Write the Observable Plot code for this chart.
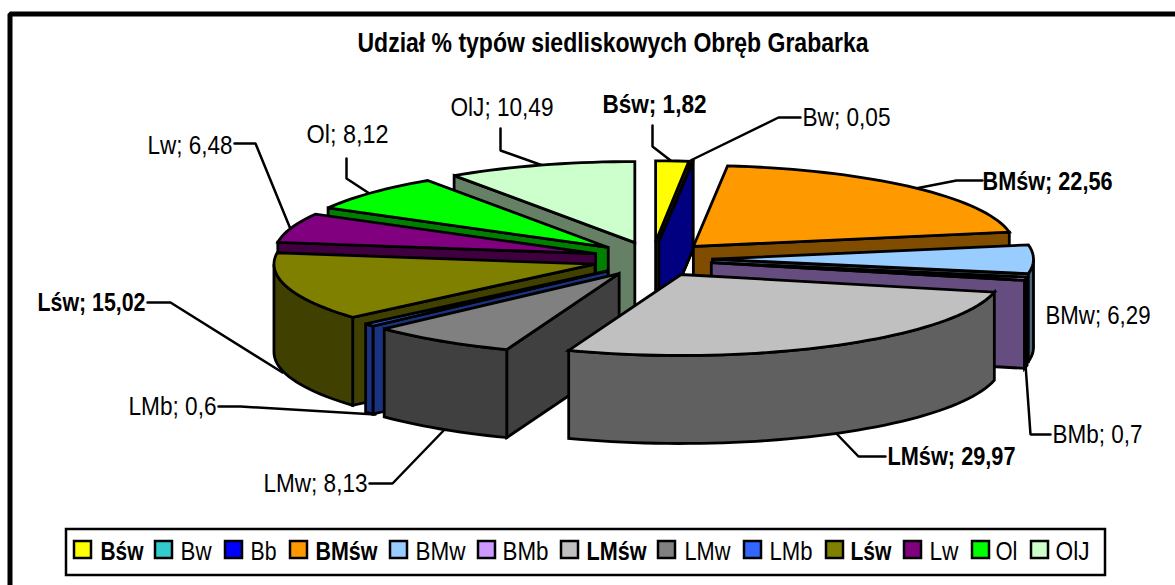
<!DOCTYPE html>
<html><head><meta charset="utf-8">
<script src="https://cdn.jsdelivr.net/npm/d3@7"></script>
<script src="https://cdn.jsdelivr.net/npm/@observablehq/plot@0.6"></script>
<style>html,body{margin:0;padding:0;background:#fff}svg{display:block}</style>
</head><body><div id="chart"></div>
<script>
const categories = ["Bśw","Bw","Bb","BMśw","BMw","BMb","LMśw","LMw","LMb","Lśw","Lw","Ol","OlJ"];
const shares = [1.82,0.05,0,22.56,6.29,0.7,29.97,8.13,0.6,15.02,6.48,8.12,10.49];
const shareLabels = ["1,82","0,05",null,"22,56","6,29","0,7","29,97","8,13","0,6","15,02","6,48","8,12","10,49"];
const boldNames = ["Bśw","BMśw","LMśw","Lśw"];
const topColors = ["#ffff00","#33cccc","#0000ff","#ff9900","#99ccff","#cc99ff","#c0c0c0","#808080","#3366ff","#808000","#800080","#00ff00","#ccffcc"];

// layout of the drawing (projection of the pie)
const cx=652, cy=258.7, Rx=321, Ry=81, exX=60, exY=17.4, depth=88;
const total = d3.sum(shares);
const rad = Math.PI/180;
const darker = c => { const r=d3.rgb(c); return d3.rgb(r.r/2,r.g/2,r.b/2).formatHex(); };

let acc=0;
const wedges = categories.map((name,i)=>{
  const a0=acc/total*360; acc+=shares[i]; const a1=acc/total*360;
  const mid=(a0+a1)/2;
  return {name,i,a0,a1,mid,
    ax:cx+exX*Math.sin(mid*rad), ay:cy-exY*Math.cos(mid*rad)};
});
const pt=(w,a,dz=0)=>({x:w.ax+Rx*Math.sin(a*rad), y:w.ay-Ry*Math.cos(a*rad)+dz});
const faces=[];
const addFace=(id,color,pts)=>pts.forEach(p=>faces.push({id,color,x:p.x,y:p.y}));
const arc=(w,a0,a1)=>{const n=Math.max(1,Math.ceil((a1-a0)/2));return d3.range(n+1).map(k=>a0+(a1-a0)*k/n);};

[...wedges].sort((p,q)=>Math.cos(q.mid*rad)-Math.cos(p.mid*rad)).forEach(w=>{
  const top=topColors[w.i], side=darker(top), apex={x:w.ax,y:w.ay}, apexLow={x:w.ax,y:w.ay+depth};
  if(Math.sin(w.a0*rad)<0){ addFace(w.name+"s",side,[apex,pt(w,w.a0),pt(w,w.a0,depth),apexLow]); }
  if(Math.sin(w.a1*rad)>0 || w.a1<1e-6){ addFace(w.name+"e",side,[apex,pt(w,w.a1),pt(w,w.a1,depth),apexLow]); }
  const r0=Math.max(w.a0,90), r1=Math.min(w.a1,270);
  if(r1>r0){ const as=arc(w,r0,r1);
    addFace(w.name+"r",side,[...as.map(a=>pt(w,a)),...as.slice().reverse().map(a=>pt(w,a,depth))]); }
  if(w.a1>w.a0) addFace(w.name+"t",top,[apex,...arc(w,w.a0,w.a1).map(a=>pt(w,a))]);
});

// label layout
const labelText = categories.map((c,i)=>shareLabels[i]?`${c}; ${shareLabels[i]}`:null);
const labelBox = {"Bśw":[602,706,104],"Bw":[802,890,117],"BMśw":[982,1112,181],"BMw":[1045,1150,315],"BMb":[1052,1142,434],"LMśw":[887,1015,456],"LMw":[263,367,483],"LMb":[128,216,406],"Lśw":[37,145,302],"Lw":[147,232,145],"Ol":[306,388,134],"OlJ":[450,553,107]};
const leaders = {"Bśw":[[652,125],[652,146],[674,163]],"Bw":[[800,117],[778,117],[690,160]],"BMśw":[[982,180],[956,180],[915,188]],"BMb":[[1050,434],[1030,434],[1025,364]],"LMśw":[[885,456],[858,456],[832,429]],"LMw":[[369,483],[392,483],[447,426]],"LMb":[[218,406],[240,406],[375,414]],"Lśw":[[147,302],[170,302],[282,372]],"Lw":[[234,143],[255,143],[291,231]],"Ol":[[346,158],[346,178],[372,195]],"OlJ":[[500,128],[500,150],[545,166]]};
const leaderPts = Object.entries(leaders).flatMap(([k,ps])=>ps.map(p=>({k,x:p[0],y:p[1]})));
const labelRows = categories.map((c,i)=>({c,t:labelText[i]})).filter(d=>d.t).map(d=>({...d,x0:labelBox[d.c][0],x1:labelBox[d.c][1],y:labelBox[d.c][2]}));

// legend layout
const legendSwatchX=[74,155,225,290,390,478,561,658,744,826,904,972,1031];
const legendTextX=[[100,143],[180,211],[250,276],[315,377],[415,465],[502,548],[586,646],[684,730],[769,812],[850,891],[929,958],[995,1017],[1055,1089]];
const legendRows=categories.map((c,i)=>({c,color:topColors[i],sx:legendSwatchX[i],x0:legendTextX[i][0],x1:legendTextX[i][1]}));
const titleRow=[{t:"Udział % typów siedliskowych Obręb Grabarka",x0:357,x1:868,y:43}];

const fontFamily="'Liberation Sans', Arial, sans-serif";
const boldLabels=labelRows.filter(d=>boldNames.includes(d.c)), normalLabels=labelRows.filter(d=>!boldNames.includes(d.c));
const boldLegend=legendRows.filter(d=>boldNames.includes(d.c)), normalLegend=legendRows.filter(d=>!boldNames.includes(d.c));

const plot = Plot.plot({
  width:1175,height:585,margin:0,
  style:{fontFamily,background:"#fff"},
  x:{domain:[0,1175],range:[0,1175],axis:null},
  y:{domain:[0,585],range:[0,585],axis:null},
  color:{type:"identity"},
  marks:[
    Plot.line([{x:9.5,y:590},{x:9.5,y:13.5},{x:1180,y:13.5}],{x:"x",y:"y",stroke:"#000",strokeWidth:5,strokeLinejoin:"miter",curve:"linear"}),
    Plot.line(leaderPts,{x:"x",y:"y",z:"k",stroke:"#000",strokeWidth:2.5,strokeLinejoin:"miter",curve:"linear"}),
    Plot.line(faces,{x:"x",y:"y",z:"id",fill:"color",stroke:"#000",strokeWidth:2.8,strokeLinejoin:"miter",strokeMiterlimit:3,curve:"linear-closed"}),
    Plot.text(titleRow,{x:"x0",y:"y",text:"t",textAnchor:"start",fontSize:27,fontWeight:"bold",fill:"#000",className:"t-title"}),
    Plot.text(boldLabels,{x:"x0",y:"y",text:"t",textAnchor:"start",fontSize:26,fontWeight:"bold",fill:"#000",className:"t-bl"}),
    Plot.text(normalLabels,{x:"x0",y:"y",text:"t",textAnchor:"start",fontSize:26,fill:"#000",className:"t-nl"}),
    Plot.rect([{}],{x1:()=>66,x2:()=>1105,y1:()=>529,y2:()=>575,stroke:"#000",strokeWidth:2.5,fill:"#fff"}),
    Plot.rect(legendRows,{x1:"sx",x2:d=>d.sx+17,y1:()=>541,y2:()=>558,fill:"color",stroke:"#000",strokeWidth:2.5}),
    Plot.text(boldLegend,{x:"x0",y:()=>551,text:"c",textAnchor:"start",fontSize:26,fontWeight:"bold",fill:"#000",className:"t-bg"}),
    Plot.text(normalLegend,{x:"x0",y:()=>551,text:"c",textAnchor:"start",fontSize:26,fill:"#000",className:"t-ng"})
  ]
});
const fit=(cls,rows)=>d3.select(plot).selectAll(`.${cls} text`).each(function(_,i){
  this.setAttribute("textLength",rows[i].x1-rows[i].x0);
  this.setAttribute("lengthAdjust","spacingAndGlyphs");
});
fit("t-title",titleRow);fit("t-bl",boldLabels);fit("t-nl",normalLabels);fit("t-bg",boldLegend);fit("t-ng",normalLegend);
document.getElementById("chart").append(plot);
</script></body></html>
